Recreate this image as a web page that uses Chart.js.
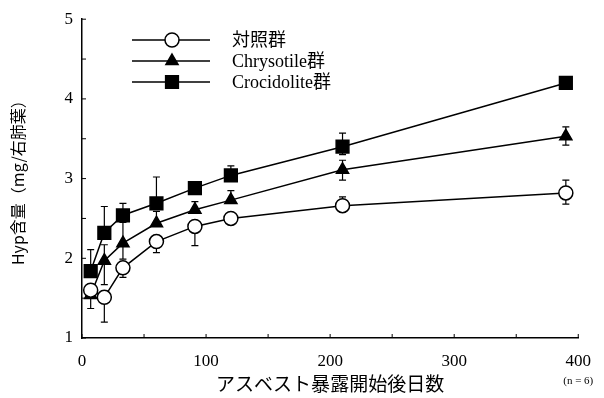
<!DOCTYPE html>
<html lang="ja">
<head>
    <meta charset="UTF-8">
    <script src="https://cdn.jsdelivr.net/npm/chart.js"></script>
    <style>
        body { margin: 0; background: #fff; }
    </style>
</head>
<body>
    <canvas id="hyp_line-chart" width="604" height="398"></canvas>

    <script>
        // days after start of exposure
        var days = [7, 18, 33, 60, 91, 120, 210, 390];

        // Hyp content (mg / right lung lobe), means
        var controlVals = [1.60, 1.51, 1.88, 2.21, 2.40, 2.50, 2.66, 2.82];
        var chrysotileVals = [1.54, 1.97, 2.19, 2.44, 2.61, 2.73, 3.11, 3.53];
        var crocidoliteVals = [1.84, 2.32, 2.54, 2.69, 2.88, 3.04, 3.40, 4.20];

        // error bars as drawn (upper / lower half)
        var controlErrUp = [0, 0, 0, 0, 0, 0, 0.11, 0.16];
        var controlErrDown = [0, 0.31, 0.12, 0.14, 0.24, 0, 0, 0.14];
        var chrysotileErrUp = [0, 0.2, 0.26, 0.15, 0.1, 0.12, 0.12, 0.12];
        var chrysotileErrDown = [0.17, 0.3, 0.2, 0, 0, 0, 0.13, 0.11];
        var crocidoliteErrUp = [0.27, 0.33, 0.15, 0.33, 0, 0.12, 0.17, 0.03];
        var crocidoliteErrDown = [0, 0, 0, 0, 0, 0, 0.1, 0.03];

        var legendNames = ["対照群", "Chrysotile群", "Crocidolite群"];
        var xTitle = "アスベスト暴露開始後日数";
        var yTitle = "Hyp含量（mg/右肺葉）";
        var noteText = "(n = 6)";

        var serif = "'Liberation Serif', 'Noto Sans CJK JP', serif";

        function toPoints(vals) {
            return days.map(function (d, i) { return { x: d, y: vals[i] }; });
        }

        var groups = [
            { name: legendNames[0], vals: controlVals, up: controlErrUp, down: controlErrDown,
              style: 'circle', radius: 7, fill: '#fff' },
            { name: legendNames[1], vals: chrysotileVals, up: chrysotileErrUp, down: chrysotileErrDown,
              style: 'triangle', radius: 7, fill: '#000' },
            { name: legendNames[2], vals: crocidoliteVals, up: crocidoliteErrUp, down: crocidoliteErrDown,
              style: 'rect', radius: 9, fill: '#000' },
        ];

        // error bars under the markers
        var errorBars = {
            id: 'errorBars',
            beforeDatasetsDraw: function (chart) {
                var ctx = chart.ctx, xs = chart.scales.x, ys = chart.scales.y;
                ctx.save();
                ctx.strokeStyle = '#000';
                ctx.lineWidth = 1.2;
                groups.forEach(function (g) {
                    days.forEach(function (d, i) {
                        var px = xs.getPixelForValue(d);
                        [[g.up[i], 1], [g.down[i], -1]].forEach(function (e) {
                            if (!e[0]) return;
                            var py0 = ys.getPixelForValue(g.vals[i]);
                            var py1 = ys.getPixelForValue(g.vals[i] + e[1] * e[0]);
                            ctx.beginPath();
                            ctx.moveTo(px, py0);
                            ctx.lineTo(px, py1);
                            ctx.moveTo(px - 3.5, py1);
                            ctx.lineTo(px + 3.5, py1);
                            ctx.stroke();
                        });
                    });
                });
                ctx.restore();
            }
        };

        // inward ticks, legend, note
        var decorations = {
            id: 'decorations',
            afterDraw: function (chart) {
                var ctx = chart.ctx, xs = chart.scales.x, ys = chart.scales.y;
                var area = chart.chartArea;
                ctx.save();
                ctx.strokeStyle = '#000';
                ctx.lineWidth = 1;
                ys.ticks.forEach(function (t) {
                    var py = ys.getPixelForValue(t.value);
                    ctx.beginPath();
                    ctx.moveTo(area.left, py);
                    ctx.lineTo(area.left + 4, py);
                    ctx.stroke();
                });
                xs.ticks.forEach(function (t) {
                    var px = xs.getPixelForValue(t.value);
                    ctx.beginPath();
                    ctx.moveTo(px, area.bottom);
                    ctx.lineTo(px, area.bottom - 4);
                    ctx.stroke();
                });

                // legend
                var lx0 = area.left + 50, lx1 = area.left + 128, mx = area.left + 90;
                ctx.font = "18px " + serif;
                ctx.textBaseline = 'middle';
                ctx.fillStyle = '#000';
                groups.forEach(function (g, i) {
                    var ly = 40 + i * 21;
                    ctx.lineWidth = 1.5;
                    ctx.beginPath();
                    ctx.moveTo(lx0, ly);
                    ctx.lineTo(lx1, ly);
                    ctx.stroke();
                    ctx.fillStyle = g.fill;
                    ctx.lineWidth = 1.5;
                    Chart.helpers.drawPoint(ctx, { pointStyle: g.style, radius: g.radius, rotation: 0, borderWidth: 1.5 }, mx, ly);
                    ctx.fillStyle = '#000';
                    ctx.fillText(g.name, area.left + 150, ly + 1);
                });

                ctx.font = "11px " + serif;
                ctx.textAlign = 'center';
                ctx.fillText(noteText, xs.getPixelForValue(400), 381);
                ctx.restore();
            }
        };

        var ctx = document.getElementById('hyp_line-chart');
        var lineChart = new Chart(ctx, {
            type: 'line',
            data: {
                datasets: groups.map(function (g) {
                    return {
                        label: g.name,
                        data: toPoints(g.vals),
                        borderColor: '#000',
                        borderWidth: 1.5,
                        backgroundColor: g.fill,
                        pointStyle: g.style,
                        pointRadius: g.radius,
                        pointBorderWidth: 1.5,
                        pointBorderColor: '#000',
                        pointBackgroundColor: g.fill,
                        tension: 0,
                    };
                })
            },
            options: {
                responsive: false,
                animation: false,
                maintainAspectRatio: false,
                layout: { padding: { top: 12, right: 25, left: 0, bottom: 0 } },
                plugins: {
                    legend: { display: false },
                    tooltip: { enabled: false },
                },
                scales: {
                    x: {
                        type: 'linear',
                        min: 0,
                        max: 400,
                        grid: { drawOnChartArea: false, drawTicks: false },
                        border: { color: '#000', width: 1.5 },
                        ticks: {
                            stepSize: 50,
                            autoSkip: false,
                            maxRotation: 0,
                            padding: 13,
                            color: '#000',
                            font: { family: serif, size: 17 },
                            callback: function (v) { return v % 100 === 0 ? v : ''; }
                        },
                        title: {
                            display: true,
                            text: xTitle,
                            color: '#000',
                            font: { family: "'Noto Sans CJK JP'", size: 19 },
                            padding: { top: 0, bottom: 3 }
                        },
                        afterFit: function (scale) { scale.height = 60; }
                    },
                    y: {
                        min: 1,
                        max: 5,
                        grid: { drawOnChartArea: false, drawTicks: false },
                        border: { color: '#000', width: 1.5 },
                        ticks: {
                            stepSize: 0.5,
                            autoSkip: false,
                            padding: 9,
                            color: '#000',
                            font: { family: serif, size: 17 },
                            callback: function (v) { return Number.isInteger(v) ? v : ''; }
                        },
                        title: {
                            display: true,
                            text: yTitle,
                            color: '#000',
                            font: { family: "'Noto Sans CJK JP'", size: 16 },
                            padding: { top: 8, bottom: 0 }
                        },
                        afterFit: function (scale) { scale.width = 82; }
                    }
                }
            },
            plugins: [errorBars, decorations]
        });
    </script>
</body>
</html>
